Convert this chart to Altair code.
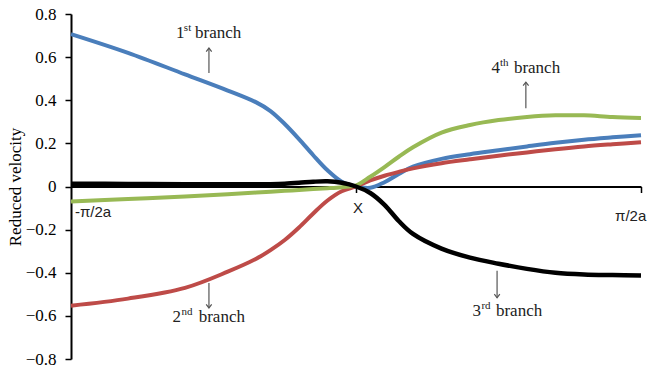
import altair as alt
import pandas as pd

# Reduced wave-vector across the zone, from -pi/2a (-1) through X (0) to pi/2a (1)
k = [-1.0, -0.8, -0.6, -0.45, -0.35, -0.3, -0.25, -0.2, -0.15, -0.1, -0.05, 0.0,
     0.05, 0.1, 0.15, 0.2, 0.3, 0.4, 0.5, 0.6, 0.7, 0.8, 0.9, 1.0]

branch1 = [0.707, 0.62, 0.52, 0.445, 0.39, 0.35, 0.29, 0.22, 0.145, 0.075, 0.022, 0.0,
           -0.006, 0.02, 0.058, 0.092, 0.128, 0.15, 0.168, 0.186, 0.203, 0.217, 0.228, 0.238]
branch2 = [-0.553, -0.52, -0.47, -0.395, -0.335, -0.295, -0.248, -0.19, -0.125, -0.065, -0.022, 0.0,
           0.028, 0.05, 0.068, 0.084, 0.108, 0.126, 0.143, 0.158, 0.173, 0.186, 0.196, 0.205]
branch3 = [0.013, 0.012, 0.011, 0.01, 0.01, 0.011, 0.013, 0.017, 0.022, 0.024, 0.017, 0.0,
           -0.03, -0.085, -0.16, -0.22, -0.288, -0.33, -0.358, -0.382, -0.4, -0.408, -0.411, -0.413]
branch4 = [-0.07, -0.058, -0.046, -0.036, -0.028, -0.024, -0.02, -0.016, -0.012, -0.008, -0.003, 0.005,
           0.045, 0.09, 0.138, 0.182, 0.25, 0.285, 0.308, 0.322, 0.33, 0.33, 0.322, 0.318]

colour_names = ["1st", "2nd", "4th"]
colour_values = ["#4A7EBB", "#BE4B48", "#98B954"]

# Branch labels: number, superscript and word placed in data units
label_num = ["1", "2", "3", "4"]
label_sup = ["st", "nd", "rd", "th"]
label_y = [0.712, -0.605, -0.577, 0.549]
label_num_x = [-0.632, -0.644, 0.409, 0.475]
label_sup_x = [-0.604, -0.612, 0.440, 0.505]
label_word_x = [-0.565, -0.552, 0.491, 0.554]

# Arrows: x, tail y, tip y
arrow_x = [-0.516, -0.516, 0.495, 0.596]
arrow_tail = [0.526, -0.447, -0.391, 0.363]
arrow_tip = [0.642, -0.563, -0.516, 0.484]

# Zone labels along the k axis
zone_text = ["-\u03c0/2a", "X", "\u03c0/2a"]
zone_x = [-0.986, 0.007, 0.909]
zone_y = [-0.116, -0.098, -0.135]
zone_align = ["left", "center", "left"]

rows = []
for name, vals in [("1st", branch1), ("2nd", branch2), ("4th", branch4)]:
    for kk, v in zip(k, vals):
        rows.append({"k": kk, "v": v, "branch": name})
lines = pd.DataFrame(rows)
black = pd.DataFrame({"k": k, "v": branch3})

labels = pd.DataFrame({"num": label_num, "sup": label_sup, "y": label_y,
                       "xn": label_num_x, "xs": label_sup_x, "xw": label_word_x,
                       "word": ["branch"] * 4})
arrows = pd.DataFrame({"x": arrow_x, "y1": arrow_tail, "y2": arrow_tip,
                       "dir": ["up", "down", "down", "up"]})
zones = pd.DataFrame({"t": zone_text, "x": zone_x, "y": zone_y, "a": zone_align})

xs = alt.Scale(domain=[-1, 1], nice=False, zero=False)
ys = alt.Scale(domain=[-0.8, 0.8], nice=False, zero=False)
serif = "Times New Roman"
title_serif = "serif"
sans = "Liberation Sans"

PLOT_H = 345

base_x = alt.X("k:Q", scale=xs,
               axis=alt.Axis(values=[0, 1], labels=False, title=None, grid=False,
                             domainColor="black", domainWidth=2, tickColor="black",
                             tickWidth=1.5, tickSize=6, offset=-PLOT_H / 2))
base_y = alt.Y("v:Q", scale=ys,
               axis=alt.Axis(values=[-0.8, -0.6, -0.4, -0.2, 0, 0.2, 0.4, 0.6, 0.8],
                             labelExpr="datum.value == 0 ? '0' : format(datum.value, '.1f')",
                             title="Reduced velocity", titleFont=title_serif, titleFontSize=17,
                             titleFontWeight="normal", titleColor="black", titlePadding=1,
                             labelFont=serif, labelFontSize=17, labelColor="black",
                             labelPadding=9, grid=False, domainColor="black", domainWidth=2,
                             tickColor="black", tickWidth=1.5, tickSize=6))

coloured = alt.Chart(lines).mark_line(strokeWidth=4, interpolate="catmull-rom").encode(
    x=base_x, y=base_y,
    color=alt.Color("branch:N", scale=alt.Scale(domain=colour_names, range=colour_values),
                    legend=None),
    detail="branch:N",
)

third = alt.Chart(black).mark_line(strokeWidth=4.5, color="black",
                                   interpolate="catmull-rom").encode(x="k:Q", y="v:Q")

arrow_shafts = alt.Chart(arrows).mark_rule(color="#555555", strokeWidth=1.2).encode(
    x="x:Q", y="y1:Q", y2="y2:Q"
)
heads_up = alt.Chart(arrows).transform_filter("datum.dir == 'up'").mark_point(
    shape="M-1,1.3L0,0L1,1.3", size=30, filled=False, color="#555555", strokeWidth=1.2, opacity=1
).encode(x="x:Q", y="y2:Q")
heads_down = alt.Chart(arrows).transform_filter("datum.dir == 'down'").mark_point(
    shape="M-1,-1.3L0,0L1,-1.3", size=30, filled=False, color="#555555", strokeWidth=1.2, opacity=1
).encode(x="x:Q", y="y2:Q")

num_text = alt.Chart(labels).mark_text(font=serif, fontSize=17, align="left",
                                       baseline="middle", color="#222222").encode(
    x="xn:Q", y="y:Q", text="num:N")
sup_text = alt.Chart(labels).mark_text(font=serif, fontSize=11, align="left",
                                       baseline="middle", dy=-5, color="#222222").encode(
    x="xs:Q", y="y:Q", text="sup:N")
word_text = alt.Chart(labels).mark_text(font=serif, fontSize=17, align="left",
                                        baseline="middle", color="#222222").encode(
    x="xw:Q", y="y:Q", text="word:N")

zone_left = alt.Chart(zones).transform_filter("datum.a == 'left'").mark_text(
    font=sans, fontSize=15, align="left", baseline="middle", color="#222222"
).encode(x="x:Q", y="y:Q", text="t:N")
zone_mid = alt.Chart(zones).transform_filter("datum.a == 'center'").mark_text(
    font=sans, fontSize=15, align="center", baseline="middle", color="#222222"
).encode(x="x:Q", y="y:Q", text="t:N")

chart = alt.layer(
    coloured, third, arrow_shafts, heads_up, heads_down,
    num_text, sup_text, word_text, zone_left, zone_mid
).properties(
    width=570, height=PLOT_H,
    autosize=alt.AutoSizeParams(type="none"),
    padding={"left": 71, "top": 14, "right": 7, "bottom": 14},
    background="white",
).configure_view(stroke=None)

chart.save("out.html", embed_options={"renderer": "svg", "actions": False})
